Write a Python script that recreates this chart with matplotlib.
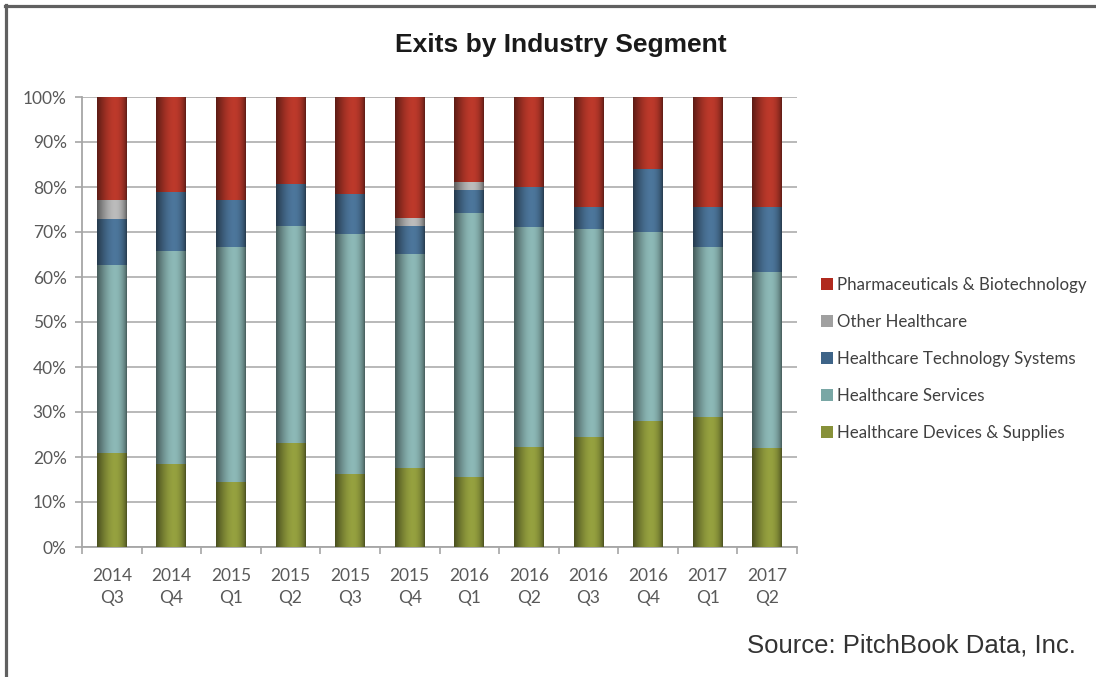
import numpy as np
import matplotlib
matplotlib.use("Agg")
import matplotlib.pyplot as plt
from matplotlib.lines import Line2D
from matplotlib.patches import Patch
from matplotlib.colors import to_rgb

# ---- data (percent of exits) ----
quarters = ["2014\nQ3", "2014\nQ4", "2015\nQ1", "2015\nQ2", "2015\nQ3", "2015\nQ4",
            "2016\nQ1", "2016\nQ2", "2016\nQ3", "2016\nQ4", "2017\nQ1", "2017\nQ2"]
devices = [20.9, 18.4, 14.5, 23.1, 16.2, 17.6, 15.6, 22.2, 24.4, 28.0, 28.9, 22.0]
services = [41.7, 47.4, 52.2, 48.2, 53.4, 47.5, 58.6, 49.0, 46.3, 42.0, 37.8, 39.0]
tech = [10.3, 13.1, 10.3, 9.4, 8.9, 6.2, 5.1, 8.7, 4.9, 13.9, 8.9, 14.6]
other = [4.2, 0, 0, 0, 0, 1.7, 1.7, 0, 0, 0, 0, 0]
pharma = [22.9, 21.1, 23.0, 19.3, 21.5, 27.0, 19.0, 20.1, 24.4, 16.1, 24.4, 24.4]
yticks = [0, 10, 20, 30, 40, 50, 60, 70, 80, 90, 100]

series = [
    ("Healthcare Devices & Supplies", devices, "#879139", "#939e3e"),
    ("Healthcare Services", services, "#79a7a5", "#8ab5b3"),
    ("Healthcare Technology Systems", tech, "#3e6488", "#4b7499"),
    ("Other Healthcare", other, "#a0a0a0", "#b8b8b8"),
    ("Pharmaceuticals & Biotechnology", pharma, "#b02a1e", "#b9382a"),
]

W, H = 1096, 677
fig = plt.figure(figsize=(W / 100, H / 100), dpi=100)
fig.patch.set_facecolor("white")
ax = fig.add_axes([82 / W, 1 - 547 / H, (797 - 82) / W, (547 - 97) / H])

x = np.arange(len(quarters))
bw = 0.5
bottom = np.zeros(len(quarters))

# shading profile across a bar (cylinder look)
N = 64
t = np.linspace(0, 1, N)
tp = t ** (np.log(0.5) / np.log(0.6))
prof = 0.50 + 0.52 * np.sin(np.pi * tp) ** 0.7

for name, vals, flat, peak in series:
    vals = np.array(vals, dtype=float)
    bars = ax.bar(x, vals, bw, bottom=bottom, color=flat, linewidth=0, zorder=2)
    base = np.array(to_rgb(peak))
    img = np.clip(prof[:, None] * base[None, :], 0, 1)[None, :, :]
    for p, v in zip(bars.patches, vals):
        if v <= 0:
            continue
        x0, y0 = p.get_x(), p.get_y()
        ax.imshow(img, extent=[x0, x0 + p.get_width(), y0, y0 + p.get_height()],
                  aspect="auto", interpolation="bilinear", zorder=3)
    bottom += vals

ax.set_xlim(-0.5, len(quarters) - 0.5)
ax.set_ylim(0, 100)
ax.set_yticks(yticks)
ax.set_yticklabels([f"{v}%" for v in yticks])
ax.set_xticks(x)
ax.set_xticklabels(quarters, linespacing=1.5)
ax.set_xticks(np.arange(-0.5, len(quarters), 1.0), minor=True)

for lab in ax.get_yticklabels() + ax.get_xticklabels():
    lab.set_fontfamily(["Lato", "DejaVu Sans"])
    lab.set_fontsize(12.5)
    lab.set_color("#595959")

ax.tick_params(axis="y", length=5, width=1.2, color="#a6a6a6", pad=6)
ax.tick_params(axis="x", which="major", length=0, pad=15)
ax.tick_params(axis="x", which="minor", length=5, width=1.2, color="#a6a6a6")

ax.set_axisbelow(True)
ax.grid(axis="y", color="#b3b3b3", linewidth=1.3, zorder=0)
for s in ["top", "right"]:
    ax.spines[s].set_visible(False)
for s in ["left", "bottom"]:
    ax.spines[s].set_color("#a6a6a6")
    ax.spines[s].set_linewidth(1.3)

# legend
handles = [Patch(facecolor=flat, edgecolor="none") for name, vals, flat, peak in series][::-1]
labels = [name for name, vals, flat, peak in series][::-1]
leg = fig.legend(handles, labels, loc="upper left", bbox_to_anchor=(814 / W, 1 - 270 / H),
                 frameon=False, handlelength=0.75, handleheight=0.75, handletextpad=0.2,
                 labelspacing=1.24, borderaxespad=0,
                 prop=dict(family=["Lato", "DejaVu Sans"], size=12.2))
for txt in leg.get_texts():
    txt.set_color("#404040")

# title and source
fig.text(561 / W, 1 - 45 / H, "Exits by Industry Segment", ha="center", va="center",
         fontsize=19, fontweight="bold", family=["Liberation Sans", "DejaVu Sans"],
         color="#1a1a1a")
fig.text(1076 / W, 1 - 645 / H, "Source: PitchBook Data, Inc.", ha="right", va="center",
         fontsize=18.5, family=["Liberation Sans", "DejaVu Sans"], color="#333333")

# frame lines (top and left)
fig.add_artist(Line2D([5 / W, 1.0], [1 - 6 / H, 1 - 6 / H], transform=fig.transFigure,
                      color="#606060", linewidth=2.3))
fig.add_artist(Line2D([6 / W, 6 / W], [1 - 5 / H, 0.0], transform=fig.transFigure,
                      color="#606060", linewidth=2.3))

fig.savefig("out.png", dpi=100, facecolor="white")
